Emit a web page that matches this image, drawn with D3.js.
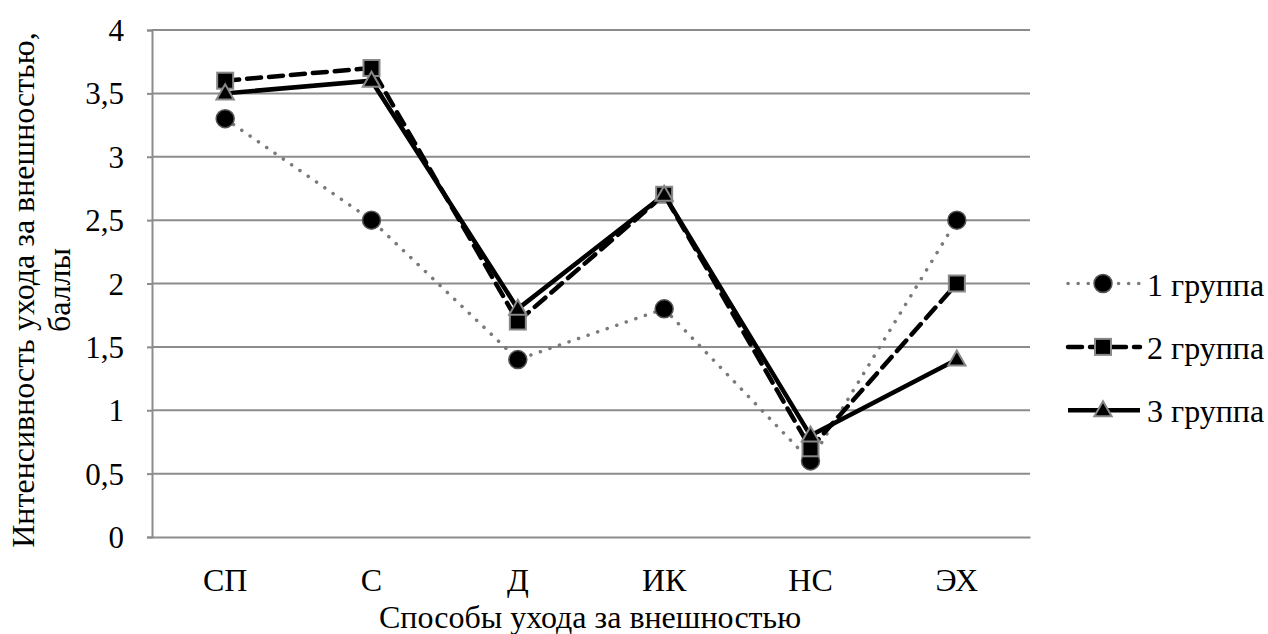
<!DOCTYPE html>
<html>
<head>
<meta charset="utf-8">
<script src="https://cdn.jsdelivr.net/npm/d3@7"></script>
</head>
<body style="margin:0">
<script>
// data
var categories = ["СП", "С", "Д", "ИК", "НС", "ЭХ"];
var group1 = [3.3, 2.5, 1.4, 1.8, 0.6, 2.5];
var group2 = [3.6, 3.7, 1.7, 2.7, 0.7, 2.0];
var group3 = [3.5, 3.6, 1.8, 2.7, 0.8, 1.4];
var seriesNames = ["1 группа", "2 группа", "3 группа"];
var yTicks = [0, 0.5, 1, 1.5, 2, 2.5, 3, 3.5, 4];

var width = 1268, height = 634;
var margin = {top: 30, right: 238, bottom: 97, left: 152};
var fontName = "Liberation Serif";

var svg = d3.select("body").append("svg")
    .attr("width", width)
    .attr("height", height)
    .attr("font-family", fontName);

// plain text straight on the svg, font set both ways
function label(px, py, str, size, anchor, rot) {
  var t = svg.append("text")
      .attr("x", px).attr("y", py)
      .attr("text-anchor", anchor)
      .attr("font-family", fontName)
      .attr("font-size", size)
      .attr("fill", "#000")
      .style("font-family", "'" + fontName + "'")
      .text(str);
  if (rot) t.attr("transform", "rotate(" + rot + "," + px + "," + py + ")");
  return t;
}

var x = d3.scaleBand()
    .domain(categories)
    .range([margin.left, width - margin.right]);

var y = d3.scaleLinear()
    .domain([0, 4])
    .range([height - margin.bottom, margin.top]);

var gridColor = "#8c8c8c";

// gridlines
svg.append("g").selectAll("line")
    .data(yTicks.filter(function(d) { return d > 0; }))
    .enter().append("line")
    .attr("x1", margin.left).attr("x2", width - margin.right)
    .attr("y1", function(d) { return y(d); })
    .attr("y2", function(d) { return y(d); })
    .attr("stroke", gridColor).attr("stroke-width", 2);

// y axis (line + ticks), labels drawn from the same scale
var yAxis = svg.append("g")
    .attr("transform", "translate(" + margin.left + ",0)")
    .call(d3.axisLeft(y).tickValues(yTicks).tickSize(5).tickFormat(""));
yAxis.select(".domain").attr("stroke", gridColor).attr("stroke-width", 2);
yAxis.selectAll(".tick line").attr("stroke", gridColor).attr("stroke-width", 2);
yTicks.forEach(function(d) {
  label(margin.left - 28, y(d) + 11, String(d).replace(".", ","), 31, "end");
});

// x axis
var xAxis = svg.append("g")
    .attr("transform", "translate(0," + (height - margin.bottom) + ")")
    .call(d3.axisBottom(x).tickSize(0).tickFormat(""));
xAxis.select(".domain").attr("stroke", gridColor).attr("stroke-width", 2);
categories.forEach(function(c) {
  label(x(c) + x.bandwidth() / 2, 591, c, 32, "middle");
});

// axis titles
label(590, 628, "Способы ухода за внешностью", 32, "middle");
label(34, 290, "Интенсивность ухода за внешностью,", 32, "middle", -90);
label(70, 290, "баллы", 32, "middle", -90);

var series = [
  {name: seriesNames[0], values: group1, color: "#7a7a7a", width: 3.5, dash: "0.1 10", cap: "round", marker: "circle"},
  {name: seriesNames[1], values: group2, color: "#000", width: 4.5, dash: "14 8", cap: "round", marker: "square"},
  {name: seriesNames[2], values: group3, color: "#000", width: 4.5, dash: null, cap: "butt", marker: "triangle"}
];

var line = d3.line()
    .x(function(d, i) { return x(categories[i]) + x.bandwidth() / 2; })
    .y(function(d) { return y(d); });

function drawMarker(g, type, cx, cy) {
  if (type === "circle") {
    g.append("circle").attr("cx", cx).attr("cy", cy).attr("r", 9)
      .attr("fill", "#000").attr("stroke", "#555").attr("stroke-width", 1.5);
  } else if (type === "square") {
    g.append("rect").attr("x", cx - 8).attr("y", cy - 8).attr("width", 16).attr("height", 16)
      .attr("fill", "#000").attr("stroke", "#888").attr("stroke-width", 2);
  } else {
    var sym = d3.symbol().type(d3.symbolTriangle).size(130);
    g.append("path").attr("d", sym()).attr("transform", "translate(" + cx + "," + (cy + 1) + ")")
      .attr("fill", "#000").attr("stroke", "#888").attr("stroke-width", 2);
  }
}

series.forEach(function(s) {
  var g = svg.append("g");
  g.append("path")
    .datum(s.values)
    .attr("d", line)
    .attr("fill", "none")
    .attr("stroke", s.color)
    .attr("stroke-width", s.width)
    .attr("stroke-linecap", s.cap)
    .attr("stroke-dasharray", s.dash);
  s.values.forEach(function(v, i) {
    drawMarker(g, s.marker, x(categories[i]) + x.bandwidth() / 2, y(v));
  });
});

// legend
var legendY = [2, 1.5, 1];
series.forEach(function(s, i) {
  var ly = y(legendY[i]);
  var g = svg.append("g");
  g.append("line")
    .attr("x1", 1068).attr("x2", 1140).attr("y1", ly).attr("y2", ly)
    .attr("stroke", s.color).attr("stroke-width", s.width)
    .attr("stroke-linecap", s.cap)
    .attr("stroke-dasharray", s.dash);
  drawMarker(g, s.marker, 1103, ly);
  label(1147, ly + 12, s.name, 32, "start");
});
</script>
</body>
</html>
